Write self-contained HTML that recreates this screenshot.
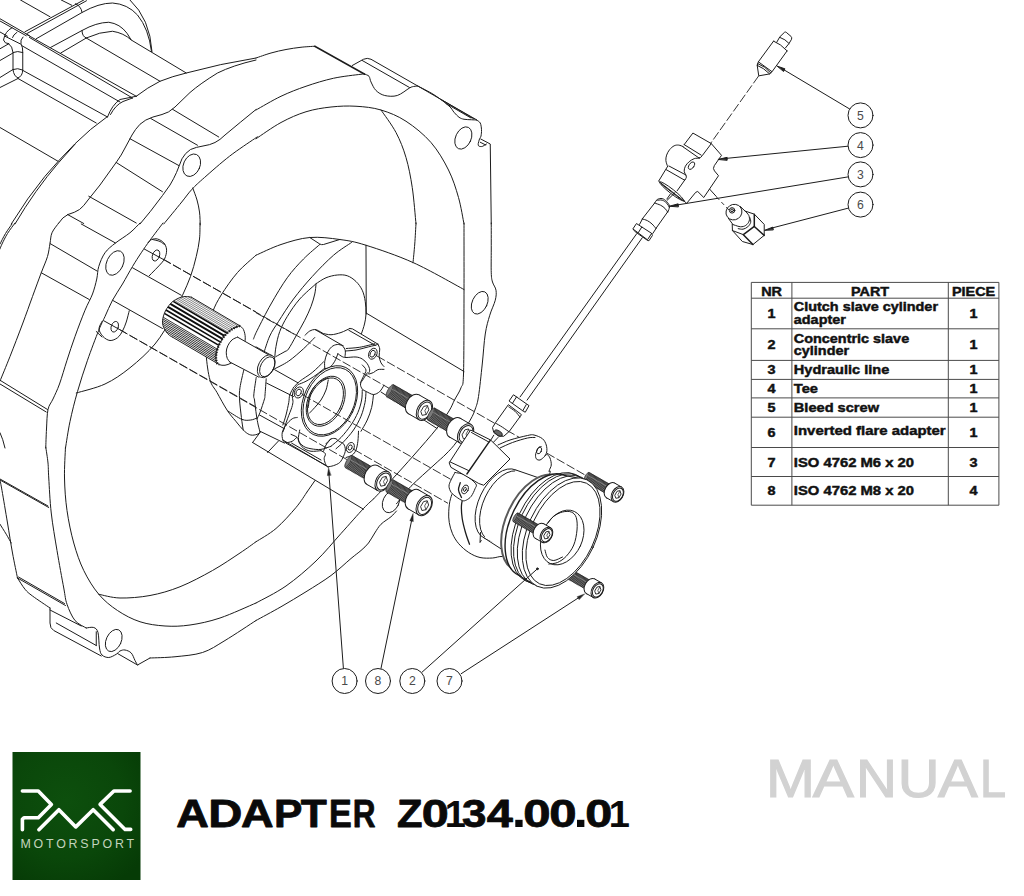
<!DOCTYPE html>
<html><head><meta charset="utf-8">
<style>
html,body{margin:0;padding:0;background:#fff;}
body{width:1024px;height:896px;position:relative;overflow:hidden;font-family:"Liberation Sans",sans-serif;}
svg{position:absolute;left:0;top:0;}
#draw path,#draw line,#draw ellipse,#draw circle,#draw polyline{fill:none;stroke:#1c1c1c;stroke-width:1;vector-effect:non-scaling-stroke;stroke-linecap:round;stroke-linejoin:round;}
#draw .d{stroke-dasharray:9 2.5;stroke-width:0.9;stroke-linecap:butt;}
#draw .w{fill:#fff;}
#draw .k{fill:#222;}
#draw .h{stroke-width:1.5;}
#tbl line{stroke:#4a4a4a;stroke-width:1;}
#tbl text{font-family:"Liberation Sans",sans-serif;font-weight:bold;font-size:12.6px;fill:#111;stroke:#111;stroke-width:0.45;}
</style></head><body>
<svg id="main" width="1024" height="896" viewBox="0 0 1024 896">
<defs>
<radialGradient id="gg" cx="0.42" cy="0.38" r="0.75"><stop offset="0" stop-color="#0d4f0d"/><stop offset="0.6" stop-color="#0a470a"/><stop offset="1" stop-color="#063b06"/></radialGradient>
</defs>
<g id="draw">
<g transform="translate(0,0) scale(0.25)">
<path d="M82,0 L200,67"/>
<path d="M245,0 L287,21"/>
<path d="M100,127 L335,0"/>
<path d="M108,134 L346,3"/>
<path d="M302,15 Q325,25 328,49"/>
<path d="M145,155 L328,50 Q395,12 450,12 Q510,16 550,60 Q595,115 606,206"/>
<path d="M520,0 Q600,75 608,206"/>
<path d="M202,190 L328,122 Q385,90 435,89 Q480,95 508,133 L525,160"/>
<path d="M243,212 L345,152 Q400,127 450,125 Q495,132 525,160 L745,292"/>
<path d="M328,122 Q328,146 345,152"/>
<path d="M345,152 L640,325"/>
<path d="M0,75 L118,143"/>
<path d="M0,84 L105,143"/>
<path d="M107,138 L545,385"/>
<path d="M118,150 L530,392"/>
<path d="M430,468 Q448,420 480,398 L545,385"/>
<path d="M442,458 Q462,420 492,406 L530,392"/>
<path d="M48,111 Q20,125 14,160 Q18,175 35,175"/>
<path d="M35,175 Q50,185 52,210 L52,278 Q55,305 72,312"/>
<path d="M92,148 Q80,160 84,175 Q92,190 91,210 L91,280 Q90,305 72,312"/>
<path d="M68,129 Q52,140 50,150"/>
<path d="M52,210 Q70,202 91,210"/>
<path d="M52,278 Q70,270 91,280"/>
<path d="M0,128 L30,145"/>
<path d="M0,195 L35,175"/>
<path d="M0,242 L52,212"/>
<path d="M0,310 L52,278"/>
<path d="M0,350 L72,314"/>
<path d="M20,145 L82,176"/>
<path d="M88,183 L480,408"/>
<path d="M92,282 L430,468"/>
<path d="M72,314 L385,492"/>
<path d="M0,510 L232,645"/>
<!-- big back rim -->
<path d="M45,896 Q110,790 180,705 Q235,640 300,575 Q360,515 430,466"/>
<path d="M545,385 Q590,350 640,325 Q690,305 745,292 Q880,255 1024,232"/>
<path d="M60,896 Q140,760 235,650 L300,577"/>
<!-- flange outer scalloped edge -->
<path d="M1024,240 Q930,262 870,292 Q800,335 760,370 L700,428 Q675,452 648,458 L612,468 Q580,478 560,497 Q540,518 528,540 L500,592 Q485,622 468,645 L400,740 L352,800 Q335,825 318,838 Q300,850 272,858 Q250,868 235,892"/>
<!-- flange front edge -->
<path d="M1024,438 Q960,490 900,540 Q880,560 860,570 Q840,580 812,584 Q785,588 762,598 Q740,612 728,635 Q716,665 706,690 Q695,715 680,740 L650,782 L602,845 L560,896"/>
<path d="M690,437 L875,548"/>
<path d="M603,474 L790,581"/>
<path d="M520,555 L715,662"/>
<path d="M465,650 L650,767"/>
<path d="M355,785 L545,892"/>
<path d="M270,858 L335,894"/>
<ellipse cx="767" cy="661" rx="33" ry="47" transform="rotate(24 767 661)"/>
<path d="M1030.0,548.0 C1028.0,549.2 1036.7,542.2 1018.0,555.0 C999.3,567.8 951.3,599.2 918.0,625.0 C884.7,650.8 843.0,688.0 818.0,710.0 C793.0,732.0 783.2,740.7 768.0,757.0 C752.8,773.3 745.8,784.8 727.0,808.0 C708.2,831.2 667.0,881.3 655.0,896.0"/>
<path d="M771.0,752.0 C773.8,760.0 783.5,784.0 788.0,800.0 C792.5,816.0 795.8,831.3 798.0,848.0 C800.2,864.7 800.5,891.3 801.0,900.0"/>
</g>

<g transform="translate(0,224) scale(0.25)">
<path d="M48.0,0.0 C43.7,6.3 30.0,24.7 22.0,38.0 C14.0,51.3 3.7,73.0 0.0,80.0"/>
<path d="M60.0,-4.0 C55.0,3.0 38.7,24.0 30.0,38.0 C21.3,52.0 13.0,69.7 8.0,80.0 C3.0,90.3 1.3,96.7 0.0,100.0"/>
<!-- flange outer edge going down -->
<path d="M235.0,-4.0 C230.5,2.5 213.8,21.3 208.0,35.0 C202.2,48.7 203.0,62.2 200.0,78.0 C197.0,93.8 195.8,110.5 190.0,130.0 C184.2,149.5 175.0,168.3 165.0,195.0 C155.0,221.7 142.5,255.8 130.0,290.0 C117.5,324.2 105.0,360.0 90.0,400.0 C75.0,440.0 55.0,492.0 40.0,530.0 C25.0,568.0 6.7,611.7 0.0,628.0"/>
<path d="M200,78 L388,188"/>
<path d="M165,195 L357,302"/>
<path d="M0,625 L190,742"/>
<path d="M0,640 L185,752"/>
<path d="M325,0 L462,76"/>
<!-- flange front left curve -->
<path d="M560.0,-4.0 C553.3,2.5 536.3,21.7 520.0,35.0 C503.7,48.3 478.7,62.7 462.0,76.0 C445.3,89.3 431.2,99.3 420.0,115.0 C408.8,130.7 400.5,152.5 395.0,170.0 C389.5,187.5 391.2,201.7 387.0,220.0 C382.8,238.3 377.8,259.2 370.0,280.0 C362.2,300.8 351.7,316.7 340.0,345.0 C328.3,373.3 312.0,416.7 300.0,450.0 C288.0,483.3 278.3,513.3 268.0,545.0 C257.7,576.7 247.3,614.2 238.0,640.0 C228.7,665.8 219.7,683.0 212.0,700.0 C204.3,717.0 196.3,722.0 192.0,742.0 C187.7,762.0 187.5,794.3 186.0,820.0 C184.5,845.7 183.5,883.3 183.0,896.0"/>
<!-- flange inner (right) curve -->
<path d="M652.0,-4.0 C643.3,7.5 614.5,45.2 600.0,65.0 C585.5,84.8 576.7,97.5 565.0,115.0 C553.3,132.5 542.5,149.2 530.0,170.0 C517.5,190.8 503.3,217.5 490.0,240.0 C476.7,262.5 461.7,283.3 450.0,305.0 C438.3,326.7 429.2,350.0 420.0,370.0 C410.8,390.0 406.7,395.8 395.0,425.0 C383.3,454.2 364.2,504.2 350.0,545.0 C335.8,585.8 321.7,629.2 310.0,670.0 C298.3,710.8 288.0,752.3 280.0,790.0 C272.0,827.7 265.0,878.3 262.0,896.0"/>
<ellipse cx="460" cy="156" rx="33" ry="52" transform="rotate(25 460 156)"/>
<!-- big back-wall arc -->
<path d="M800.0,-4.0 C799.7,6.7 800.5,37.7 798.0,60.0 C795.5,82.3 791.0,105.0 785.0,130.0 C779.0,155.0 771.2,184.2 762.0,210.0 C752.8,235.8 742.0,258.3 730.0,285.0 C718.0,311.7 708.3,337.5 690.0,370.0 C671.7,402.5 648.3,445.8 620.0,480.0 C591.7,514.2 553.3,548.3 520.0,575.0 C486.7,601.7 455.8,623.2 420.0,640.0 C384.2,656.8 324.2,670.0 305.0,676.0"/>
<!-- upper ear -->
<path d="M592.0,75.0 C594.5,72.8 600.7,64.5 607.0,62.0 C613.3,59.5 622.0,57.8 630.0,60.0 C638.0,62.2 649.0,68.3 655.0,75.0 C661.0,81.7 664.8,90.8 666.0,100.0 C667.2,109.2 665.2,120.8 662.0,130.0 C658.8,139.2 657.8,142.2 647.0,155.0 C636.2,167.8 605.3,198.3 597.0,207.0"/>
<path d="M610.0,62.0 C615.0,63.3 631.7,66.3 640.0,70.0 C648.3,73.7 656.7,81.7 660.0,84.0"/>
<ellipse cx="624" cy="126" rx="14" ry="23" transform="rotate(20 624 126)"/>
<path d="M577,100 L652,141"/>
<path class="d" d="M652,141 L1024,352"/>
<path d="M530,175 L725,285"/>
<!-- lower ear -->
<path d="M517.0,347.0 C515.0,354.5 509.5,378.5 505.0,392.0 C500.5,405.5 495.8,417.5 490.0,428.0 C484.2,438.5 478.3,448.7 470.0,455.0 C461.7,461.3 449.7,466.8 440.0,466.0 C430.3,465.2 419.3,457.7 412.0,450.0 C404.7,442.3 396.7,430.0 396.0,420.0 C395.3,410.0 406.0,395.0 408.0,390.0"/>
<ellipse cx="459" cy="411" rx="14" ry="22" transform="rotate(20 459 411)"/>
<path d="M415,387 L478,422"/>
<path class="d" d="M478,422 L1024,732"/>
<path d="M450,305 L650,418"/>
<path d="M385,430 L408,452"/>
<path d="M0,835 Q12,860 20,896"/>
</g>

<g transform="translate(0,448) scale(0.25)">
<path d="M183.0,-4.0 C184.5,6.7 190.0,39.3 192.0,60.0 C194.0,80.7 192.8,86.7 195.0,120.0 C197.2,153.3 199.5,211.7 205.0,260.0 C210.5,308.3 219.7,360.0 228.0,410.0 C236.3,460.0 248.3,524.2 255.0,560.0 C261.7,595.8 260.5,603.3 268.0,625.0 C275.5,646.7 287.2,674.2 300.0,690.0 C312.8,705.8 337.5,715.0 345.0,720.0"/>
<path d="M262.0,-4.0 C261.3,16.7 257.0,77.7 258.0,120.0 C259.0,162.3 261.8,206.7 268.0,250.0 C274.2,293.3 283.8,340.0 295.0,380.0 C306.2,420.0 318.3,455.8 335.0,490.0 C351.7,524.2 372.5,558.3 395.0,585.0 C417.5,611.7 442.5,631.7 470.0,650.0 C497.5,668.3 528.3,684.7 560.0,695.0 C591.7,705.3 626.7,709.8 660.0,712.0 C693.3,714.2 723.3,713.3 760.0,708.0 C796.7,702.7 836.0,694.7 880.0,680.0 C924.0,665.3 1000.0,630.0 1024.0,620.0"/>
<path d="M395.0,585.0 C409.2,587.5 445.8,599.2 480.0,600.0 C514.2,600.8 560.0,597.5 600.0,590.0 C640.0,582.5 678.3,571.7 720.0,555.0 C761.7,538.3 810.0,512.5 850.0,490.0 C890.0,467.5 931.0,439.2 960.0,420.0 C989.0,400.8 1013.3,382.5 1024.0,375.0"/>
<path d="M0.0,128.0 C1.3,135.0 3.0,141.3 8.0,170.0 C13.0,198.7 23.0,258.3 30.0,300.0 C37.0,341.7 43.3,383.3 50.0,420.0 C56.7,456.7 66.7,503.3 70.0,520.0"/>
<path d="M0.0,305.0 C4.2,311.7 17.5,332.5 25.0,345.0 C32.5,357.5 41.7,374.2 45.0,380.0"/>
<path d="M0,128 L195,238"/>
<path d="M0,124 L192,232"/>
<path d="M70,520 L262,630"/>
<path d="M74,516 L258,622"/>
<path d="M70.0,520.0 C75.0,527.5 90.0,553.0 100.0,565.0 C110.0,577.0 113.3,579.5 130.0,592.0 C146.7,604.5 188.3,632.0 200.0,640.0"/>
<path d="M200,640 L200,700 Q200,722 215,730 L405,832"/>
<path d="M225,700 L385,790"/>
<path d="M200,648 L325,712"/>
<ellipse cx="455" cy="770" rx="30" ry="47" transform="rotate(25 455 770)"/>
<path d="M345.0,720.0 C350.0,719.7 367.2,715.0 375.0,718.0 C382.8,721.0 388.2,724.3 392.0,738.0 C395.8,751.7 395.3,785.0 398.0,800.0 C400.7,815.0 401.8,821.7 408.0,828.0 C414.2,834.3 425.5,838.5 435.0,838.0 C444.5,837.5 457.5,829.3 465.0,825.0 C472.5,820.7 474.2,814.8 480.0,812.0 C485.8,809.2 492.5,806.7 500.0,808.0 C507.5,809.3 518.3,813.0 525.0,820.0 C531.7,827.0 535.8,842.0 540.0,850.0 C544.2,858.0 548.3,865.0 550.0,868.0"/>
<path d="M470,822 L550,868 L600,840"/>
<path d="M385,790 L385,735"/>
<path d="M600.0,840.0 C616.7,839.2 665.0,838.7 700.0,835.0 C735.0,831.3 776.7,828.8 810.0,818.0 C843.3,807.2 864.3,791.3 900.0,770.0 C935.7,748.7 1003.3,703.3 1024.0,690.0"/>
</g>

<g transform="translate(256,0) scale(0.25)">
<path d="M0.0,232.0 C10.0,228.7 40.0,217.7 60.0,212.0 C80.0,206.3 100.0,201.8 120.0,198.0 C140.0,194.2 160.8,191.2 180.0,189.0 C199.2,186.8 225.8,185.7 235.0,185.0"/>
<path class="h" d="M235,185 L435,297"/>
<path d="M0.0,440.0 C16.7,430.8 66.7,400.8 100.0,385.0 C133.3,369.2 165.0,357.0 200.0,345.0 C235.0,333.0 273.3,321.0 310.0,313.0 C346.7,305.0 399.2,299.7 420.0,297.0 C440.8,294.3 432.5,297.0 435.0,297.0"/>
<path d="M435.0,297.0 C437.8,298.3 447.8,299.8 452.0,305.0 C456.2,310.2 455.3,318.5 460.0,328.0 C464.7,337.5 470.8,353.0 480.0,362.0 C489.2,371.0 500.8,378.7 515.0,382.0 C529.2,385.3 548.5,387.0 565.0,382.0 C581.5,377.0 603.2,358.0 614.0,352.0 C624.8,346.0 624.5,347.3 630.0,346.0 C635.5,344.7 644.2,344.3 647.0,344.0"/>
<path d="M385,262 L430,237 Q445,230 460,237 L647,344 L742,399 L882,479"/>
<path d="M425,242 L614,350"/>
<path d="M647.0,344.0 C657.8,349.8 691.2,365.7 712.0,379.0 C732.8,392.3 758.7,412.3 772.0,424.0 C785.3,435.7 785.3,441.5 792.0,449.0 C798.7,456.5 805.3,464.3 812.0,469.0 C818.7,473.7 823.7,475.3 832.0,477.0 C840.3,478.7 853.7,478.5 862.0,479.0 C870.3,479.5 878.7,479.8 882.0,480.0"/>
<path d="M742,399 L872,476"/>
<path d="M760,414 L860,472"/>
<path d="M882.0,480.0 C884.5,482.0 893.7,485.5 897.0,492.0 C900.3,498.5 901.5,510.3 902.0,519.0 C902.5,527.7 901.3,537.8 900.0,544.0 C898.7,550.2 895.8,551.0 894.0,556.0 C892.2,561.0 889.7,569.5 889.0,574.0 C888.3,578.5 888.7,581.0 890.0,583.0 C891.3,585.0 894.2,585.7 897.0,586.0 C899.8,586.3 902.8,586.7 907.0,585.0 C911.2,583.3 919.5,577.5 922.0,576.0"/>
<path d="M899,556 L937,576 L941,896"/>
<path d="M897,569 L919,580"/>
<ellipse cx="829.5" cy="552" rx="31" ry="47" transform="rotate(25 829.5 552)"/>
<path d="M0.0,555.0 C16.7,544.2 66.7,508.0 100.0,490.0 C133.3,472.0 166.7,457.3 200.0,447.0 C233.3,436.7 266.7,431.7 300.0,428.0 C333.3,424.3 366.7,423.0 400.0,425.0 C433.3,427.0 466.7,430.0 500.0,440.0 C533.3,450.0 566.7,463.3 600.0,485.0 C633.3,506.7 671.7,537.5 700.0,570.0 C728.3,602.5 751.7,643.3 770.0,680.0 C788.3,716.7 799.7,754.0 810.0,790.0 C820.3,826.0 828.3,878.3 832.0,896.0"/>
<path d="M500.0,440.0 C510.0,455.0 543.3,498.3 560.0,530.0 C576.7,561.7 589.2,593.3 600.0,630.0 C610.8,666.7 618.3,705.7 625.0,750.0 C631.7,794.3 637.5,871.7 640.0,896.0"/>
</g>

<g transform="translate(256,224) scale(0.25)">
<!-- right flange -->
<path d="M941.0,-4.0 C941.0,13.3 941.0,66.8 941.0,100.0 C941.0,133.2 940.2,173.0 941.0,195.0 C941.8,217.0 942.8,220.3 946.0,232.0 C949.2,243.7 958.2,252.8 960.0,265.0 C961.8,277.2 961.2,288.3 957.0,305.0 C952.8,321.7 941.7,342.5 935.0,365.0 C928.3,387.5 922.0,407.5 917.0,440.0 C912.0,472.5 909.5,518.3 905.0,560.0 C900.5,601.7 894.7,660.0 890.0,690.0 C885.3,720.0 882.5,724.3 877.0,740.0 C871.5,755.7 869.5,762.0 857.0,784.0 C844.5,806.0 818.2,849.3 802.0,872.0 C785.8,894.7 775.0,904.7 760.0,920.0 C745.0,935.3 735.3,942.5 712.0,964.0 C688.7,985.5 645.0,1023.2 620.0,1049.0 C595.0,1074.8 571.7,1107.3 562.0,1119.0"/>
<path d="M832.0,-4.0 C832.0,46.7 832.3,199.3 832.0,300.0 C831.7,400.7 832.0,540.8 830.0,600.0 C828.0,659.2 826.0,637.7 820.0,655.0 C814.0,672.3 802.0,688.5 794.0,704.0 C786.0,719.5 784.0,728.8 772.0,748.0 C760.0,767.2 745.3,789.7 722.0,819.0 C698.7,848.3 662.0,889.8 632.0,924.0 C602.0,958.2 569.0,994.7 542.0,1024.0 C515.0,1053.3 482.0,1087.3 470.0,1100.0"/>
<ellipse cx="895" cy="315" rx="30" ry="48" transform="rotate(25 895 315)"/>
<path d="M640.0,-4.0 C639.2,10.0 637.0,53.5 635.0,80.0 C633.0,106.5 629.2,142.5 628.0,155.0"/>
<!-- top big arc -->
<path d="M215,54 L255,80 Q262,84 270,82 L335,62"/>
<path d="M0.0,125.0 C16.7,117.8 64.2,93.8 100.0,82.0 C135.8,70.2 175.8,57.3 215.0,54.0 C254.2,50.7 297.5,56.8 335.0,62.0 C372.5,67.2 390.8,69.5 440.0,85.0 C489.2,100.5 564.7,125.5 630.0,155.0 C695.3,184.5 798.3,244.2 832.0,262.0"/>
<path d="M255.0,82.0 C244.2,91.7 211.7,117.8 190.0,140.0 C168.3,162.2 146.7,185.0 125.0,215.0 C103.3,245.0 80.0,285.0 60.0,320.0 C40.0,355.0 16.7,401.7 5.0,425.0 C-6.7,448.3 -7.5,454.2 -10.0,460.0"/>
<path d="M382.0,74.0 C370.0,82.5 336.2,102.3 310.0,125.0 C283.8,147.7 251.7,180.8 225.0,210.0 C198.3,239.2 172.5,270.0 150.0,300.0 C127.5,330.0 105.8,365.3 90.0,390.0 C74.2,414.7 65.0,426.3 55.0,448.0 C45.0,469.7 34.2,508.0 30.0,520.0"/>
<path d="M240.0,239.0 C229.2,249.2 194.2,278.2 175.0,300.0 C155.8,321.8 138.3,348.3 125.0,370.0 C111.7,391.7 102.5,410.0 95.0,430.0 C87.5,450.0 83.3,472.5 80.0,490.0 C76.7,507.5 75.8,527.5 75.0,535.0"/>
<path d="M240.0,239.0 C246.7,235.0 265.8,220.8 280.0,215.0 C294.2,209.2 310.8,205.3 325.0,204.0 C339.2,202.7 352.5,202.7 365.0,207.0 C377.5,211.3 390.0,220.3 400.0,230.0 C410.0,239.7 418.8,251.7 425.0,265.0 C431.2,278.3 434.5,294.2 437.0,310.0 C439.5,325.8 440.5,345.0 440.0,360.0 C439.5,375.0 437.0,387.0 434.0,400.0 C431.0,413.0 424.0,431.7 422.0,438.0"/>
<path d="M240.0,242.0 C239.2,248.3 238.3,265.3 235.0,280.0 C231.7,294.7 226.7,312.5 220.0,330.0 C213.3,347.5 205.0,365.3 195.0,385.0 C185.0,404.7 170.8,428.8 160.0,448.0 C149.2,467.2 137.3,489.7 130.0,500.0 C122.7,510.3 124.3,505.0 116.0,510.0 C107.7,515.0 86.0,526.7 80.0,530.0"/>
<path d="M440,85 L441,360"/>
<path d="M442,357 L832,590"/>
<path class="d" d="M0,355 L160,445"/>
<path d="M500,672 L724,818"/>
</g>

<!-- throat curves, global coords -->
<g>
<path d="M256.0,255.2 C252.9,258.1 243.3,265.9 237.5,272.5 C231.7,279.1 225.4,288.3 221.2,295.0 C217.1,301.7 214.8,305.8 212.5,312.5 C210.2,319.2 208.5,327.9 207.5,335.0 C206.5,342.1 205.8,347.5 206.2,355.0 C206.7,362.5 208.2,373.8 210.0,380.0 C211.8,386.2 214.2,387.5 217.0,392.5 C219.8,397.5 223.9,405.2 227.0,410.0 C230.1,414.8 232.8,417.7 235.8,421.2 C238.7,424.8 242.0,429.0 244.5,431.2 C247.0,433.5 248.7,434.5 250.8,435.0 C252.8,435.5 255.5,434.8 257.0,434.4 C258.5,434.0 259.5,432.8 260.0,432.5"/>
<path d="M243.8,370.0 C243.1,372.9 240.7,382.7 240.0,387.5 C239.3,392.3 239.3,393.8 239.5,398.8 C239.7,403.8 240.8,412.3 241.4,417.5 C242.0,422.7 242.9,427.9 243.2,430.0"/>
<path d="M256.2,377.5 C255.8,380.4 254.0,391.2 253.8,395.0 C253.5,398.8 254.1,396.7 254.5,400.0 C254.9,403.3 255.8,410.8 256.4,415.0 C257.0,419.2 257.6,422.2 258.2,425.0 C258.9,427.8 259.7,430.8 260.0,432.0"/>
<path d="M266.2,378.8 C266.0,381.5 265.3,391.7 265.0,395.0 C264.7,398.3 265.3,395.8 264.5,398.8 C263.7,401.7 261.2,409.2 260.0,412.5 C258.8,415.8 257.5,417.7 257.0,418.8"/>
<path d="M228.2,411.2 C230.5,412.6 238.2,417.9 242.0,419.4 C245.8,420.9 248.2,420.2 250.8,420.0 C253.2,419.8 256.0,418.3 257.0,418.0"/>
<path d="M260,432.5 L252.6,442.5"/>
<path d="M278.25,441.25 L267.6,452.5"/>
<path d="M260,431.25 L284.5,443.1"/>
</g>

<!-- housing snout lines behind adapter (8x coords offset 256,320) -->
<g transform="translate(256,320) scale(0.125)">
<path d="M0,215 L140,292"/>
<path d="M150,398 L335,502"/>
<path d="M85,505 L300,612"/>
<path d="M28,760 L228,870"/>
<path d="M140.0,395.0 C160.0,384.2 220.0,357.5 260.0,330.0 C300.0,302.5 345.0,261.7 380.0,230.0 C415.0,198.3 455.0,155.0 470.0,140.0"/>
<!-- adapter -->
<path d="M392.0,122.0 C398.3,116.3 417.0,95.7 430.0,88.0 C443.0,80.3 458.3,76.3 470.0,76.0 C481.7,75.7 490.0,81.3 500.0,86.0 C510.0,90.7 525.0,101.0 530.0,104.0"/>
<path d="M475,78 L700,208"/>
<path d="M530.0,106.0 C541.7,108.0 575.0,119.0 600.0,118.0 C625.0,117.0 655.0,108.3 680.0,100.0 C705.0,91.7 738.3,73.3 750.0,68.0"/>
<path d="M750,68 L772,71 L975,193"/>
<path d="M742,82 L955,203"/>
<path d="M715.0,248.0 C729.2,246.7 772.5,244.7 800.0,240.0 C827.5,235.3 853.3,226.7 880.0,220.0 C906.7,213.3 944.2,204.5 960.0,200.0 C975.8,195.5 972.5,194.2 975.0,193.0"/>
<path d="M722.0,228.0 C740.0,226.3 792.0,224.3 830.0,218.0 C868.0,211.7 930.0,194.7 950.0,190.0"/>
<path d="M712.0,292.0 C712.3,284.2 717.3,259.0 714.0,245.0 C710.7,231.0 702.7,216.2 692.0,208.0 C681.3,199.8 664.5,194.8 650.0,196.0 C635.5,197.2 618.3,203.5 605.0,215.0 C591.7,226.5 579.2,245.8 570.0,265.0 C560.8,284.2 553.3,310.0 550.0,330.0 C546.7,350.0 550.0,375.8 550.0,385.0"/>
<path d="M655.0,270.0 C650.8,280.0 640.5,312.0 630.0,330.0 C619.5,348.0 604.5,368.3 592.0,378.0 C579.5,387.7 561.2,386.3 555.0,388.0"/>
<path d="M655.0,270.0 C660.8,273.8 679.2,288.0 690.0,293.0 C700.8,298.0 701.7,299.5 720.0,300.0 C738.3,300.5 778.3,294.0 800.0,296.0 C821.7,298.0 835.0,303.0 850.0,312.0 C865.0,321.0 880.0,335.3 890.0,350.0 C900.0,364.7 909.0,386.3 910.0,400.0 C911.0,413.7 898.3,426.7 896.0,432.0"/>
<path d="M975.0,193.0 C977.5,199.5 988.3,215.8 990.0,232.0 C991.7,248.2 983.3,271.5 985.0,290.0 C986.7,308.5 993.5,329.3 1000.0,343.0 C1006.5,356.7 1020.0,367.2 1024.0,372.0"/>
<ellipse cx="935" cy="270" rx="32" ry="46" transform="rotate(25 935 270)"/>
<ellipse cx="933" cy="270" rx="19" ry="29" transform="rotate(25 933 270)"/>
<path d="M1024.0,395.0 C1015.8,395.3 989.0,392.8 975.0,397.0 C961.0,401.2 951.7,414.2 940.0,420.0 C928.3,425.8 910.8,430.0 905.0,432.0"/>
<path d="M890.0,422.0 C885.0,430.0 869.0,455.0 860.0,470.0 C851.0,485.0 837.7,498.3 836.0,512.0 C834.3,525.7 842.3,542.0 850.0,552.0 C857.7,562.0 867.0,564.7 882.0,572.0 C897.0,579.3 922.0,596.0 940.0,596.0 C958.0,596.0 976.0,584.3 990.0,572.0 C1004.0,559.7 1018.3,530.3 1024.0,522.0"/>
<path d="M850.0,360.0 C855.0,366.7 878.3,385.0 880.0,400.0 C881.7,415.0 867.5,433.3 860.0,450.0 C852.5,466.7 839.2,491.7 835.0,500.0"/>
<!-- left lobe -->
<path d="M550.0,385.0 C538.3,394.2 505.0,422.5 480.0,440.0 C455.0,457.5 423.3,477.5 400.0,490.0 C376.7,502.5 350.0,510.8 340.0,515.0"/>
<path d="M540.0,335.0 C525.0,349.2 481.7,394.2 450.0,420.0 C418.3,445.8 375.0,470.0 350.0,490.0 C325.0,510.0 308.3,531.7 300.0,540.0"/>
<path d="M335.0,518.0 C329.5,525.0 309.5,544.7 302.0,560.0 C294.5,575.3 291.0,595.0 290.0,610.0 C289.0,625.0 296.7,635.0 296.0,650.0 C295.3,665.0 293.3,676.7 286.0,700.0 C278.7,723.3 263.8,757.3 252.0,790.0 C240.2,822.7 221.2,878.3 215.0,896.0"/>
<path d="M300.0,540.0 C295.0,550.0 276.3,580.0 270.0,600.0 C263.7,620.0 267.0,633.3 262.0,660.0 C257.0,686.7 247.8,730.0 240.0,760.0 C232.2,790.0 219.2,826.7 215.0,840.0"/>
<ellipse cx="343" cy="580" rx="35" ry="46" transform="rotate(25 343 580)"/>
<ellipse cx="341" cy="580" rx="20" ry="28" transform="rotate(25 341 580)"/>
<!-- boss ellipses -->
<ellipse class="w" cx="588" cy="648" rx="205" ry="298" transform="rotate(26 588 648)"/>
<ellipse cx="590" cy="650" rx="194" ry="284" transform="rotate(26 590 650)"/>
<ellipse cx="558" cy="650" rx="140" ry="212" transform="rotate(26 558 650)"/>
<ellipse cx="556" cy="650" rx="128" ry="198" transform="rotate(26 556 650)"/>
<path d="M418.0,700.0 C421.7,680.0 426.3,613.3 440.0,580.0 C453.7,546.7 477.5,519.7 500.0,500.0 C522.5,480.3 562.5,468.3 575.0,462.0"/>
<path d="M428.0,745.0 C435.0,737.5 454.7,717.5 470.0,700.0 C485.3,682.5 505.0,663.3 520.0,640.0 C535.0,616.7 550.3,586.7 560.0,560.0 C569.7,533.3 575.0,493.3 578.0,480.0"/>
<!-- right side arcs (thickness) -->
<path d="M850.0,560.0 C849.2,573.3 850.8,610.0 845.0,640.0 C839.2,670.0 829.2,706.7 815.0,740.0 C800.8,773.3 782.5,806.7 760.0,840.0 C737.5,873.3 706.7,911.7 680.0,940.0 C653.3,968.3 613.3,998.3 600.0,1010.0"/>
<path d="M880.0,575.0 C878.7,589.2 878.7,627.5 872.0,660.0 C865.3,692.5 855.3,733.3 840.0,770.0 C824.7,806.7 803.3,845.8 780.0,880.0 C756.7,914.2 723.3,950.0 700.0,975.0 C676.7,1000.0 650.0,1020.8 640.0,1030.0"/>
<path d="M940.0,598.0 C937.5,615.0 933.3,666.3 925.0,700.0 C916.7,733.7 904.2,768.3 890.0,800.0 C875.8,831.7 848.3,875.0 840.0,890.0"/>
<!-- bottom -->
<path d="M330.0,780.0 C323.3,781.7 305.0,780.0 290.0,790.0 C275.0,800.0 253.3,821.7 240.0,840.0 C226.7,858.3 214.2,880.0 210.0,900.0 C205.8,920.0 210.0,946.7 215.0,960.0 C220.0,973.3 227.5,978.3 240.0,980.0 C252.5,981.7 275.8,976.7 290.0,970.0 C304.2,963.3 319.2,945.0 325.0,940.0"/>
<path d="M280.0,915.0 C288.3,919.2 319.2,929.2 330.0,940.0 C340.8,950.8 336.7,965.8 345.0,980.0 C353.3,994.2 364.2,1013.3 380.0,1025.0 C395.8,1036.7 416.7,1046.7 440.0,1050.0 C463.3,1053.3 506.7,1045.8 520.0,1045.0"/>
<path d="M350.0,880.0 C348.3,893.3 335.0,938.3 340.0,960.0 C345.0,981.7 363.3,998.3 380.0,1010.0 C396.7,1021.7 416.7,1025.8 440.0,1030.0 C463.3,1034.2 493.3,1038.3 520.0,1035.0 C546.7,1031.7 586.7,1014.2 600.0,1010.0"/>
<path d="M520.0,1045.0 C525.8,1049.2 550.8,1059.2 555.0,1070.0 C559.2,1080.8 544.2,1095.0 545.0,1110.0 C545.8,1125.0 554.2,1149.2 560.0,1160.0 C565.8,1170.8 576.7,1172.5 580.0,1175.0"/>
<path d="M600.0,950.0 C593.3,958.3 570.0,983.3 560.0,1000.0 C550.0,1016.7 543.3,1041.7 540.0,1050.0"/>
<path d="M560.0,990.0 C566.7,983.7 586.7,958.7 600.0,952.0 C613.3,945.3 629.7,947.0 640.0,950.0 C650.3,953.0 652.0,963.3 662.0,970.0 C672.0,976.7 691.2,978.3 700.0,990.0 C708.8,1001.7 715.0,1023.3 715.0,1040.0 C715.0,1056.7 707.5,1073.3 700.0,1090.0 C692.5,1106.7 683.3,1127.5 670.0,1140.0 C656.7,1152.5 635.8,1159.2 620.0,1165.0 C604.2,1170.8 582.5,1173.3 575.0,1175.0"/>
<path d="M820.0,890.0 C819.2,903.3 818.3,945.0 815.0,970.0 C811.7,995.0 807.5,1021.7 800.0,1040.0 C792.5,1058.3 783.3,1070.0 770.0,1080.0 C756.7,1090.0 728.3,1096.7 720.0,1100.0"/>
<ellipse cx="755" cy="1020" rx="30" ry="42" transform="rotate(25 755 1020)"/>
<ellipse cx="753" cy="1020" rx="15" ry="22" transform="rotate(25 753 1020)"/>
<path d="M215,960 L575,1175"/>
<path d="M240,985 L555,1160"/>
<path d="M285,985 L520,1120"/>
</g>

<g transform="translate(256,448) scale(0.25)">
<path d="M0.0,375.0 C13.3,366.2 53.3,344.8 80.0,322.0 C106.7,299.2 139.3,262.3 160.0,238.0 C180.7,213.7 196.7,186.3 204.0,176.0"/>
<path d="M0.0,620.0 C20.0,608.7 80.0,580.0 120.0,552.0 C160.0,524.0 203.3,487.0 240.0,452.0 C276.7,417.0 308.3,377.0 340.0,342.0 C371.7,307.0 408.3,265.0 430.0,242.0 C451.7,219.0 463.3,210.3 470.0,204.0"/>
<path d="M0.0,690.0 C16.7,680.8 66.7,654.2 100.0,635.0 C133.3,615.8 166.7,595.8 200.0,575.0 C233.3,554.2 270.0,532.2 300.0,510.0 C330.0,487.8 360.0,458.7 380.0,442.0 C400.0,425.3 408.3,420.3 420.0,410.0 C431.7,399.7 440.8,391.7 450.0,380.0 C459.2,368.3 466.7,352.5 475.0,340.0 C483.3,327.5 489.2,315.8 500.0,305.0 C510.8,294.2 529.7,283.8 540.0,275.0 C550.3,266.2 558.3,255.8 562.0,252.0"/>
<path d="M-13.6,-22 L430,245"/>
<path d="M236,130 L204,176"/>
<ellipse cx="540" cy="215" rx="32" ry="46" transform="rotate(25 540 215)"/>
</g>

<!-- bleed screw (5) -->
<g transform="translate(740,20) scale(0.078125)">
<path d="M430,270 L235,535 L410,662 L603,395"/>
<path d="M430,270 Q520,305 603,395"/>
<path d="M235,535 L220,580 L240,715 L380,690 L410,662"/>
<path d="M228,558 Q320,590 395,678"/>
<path d="M220,580 Q300,610 380,690"/>
<path d="M470,285 L510,215 L570,157 Q582,150 592,158 L655,212 Q666,224 660,246 L628,300 L582,357"/>
<path d="M510,222 Q580,245 628,300"/>
<path class="k" d="M480,592 L575,625 L560,655 Z"/>
<path d="M560,636 L1405,1140"/>
</g>
<path class="d" d="M758.6,76 L710.5,143.5"/>
<!-- tee (4) -->
<g transform="translate(640,120) scale(0.1004)">
<path d="M440,245 L527,130 L710,235 L620,355 Q605,382 585,378"/>
<path d="M440,245 L610,350"/>
<path d="M425,265 L590,380"/>
<path d="M430.0,265.0 C422.5,262.5 400.0,251.3 385.0,250.0 C370.0,248.7 355.0,249.5 340.0,257.0 C325.0,264.5 307.5,279.5 295.0,295.0 C282.5,310.5 271.2,331.7 265.0,350.0 C258.8,368.3 256.3,386.3 258.0,405.0 C259.7,423.7 272.2,452.5 275.0,462.0"/>
<path d="M710,235 L812,352 L740,455 Q722,485 742,507 L782,555 L635,772 L575,712 L555,720 L465,830 L440,808"/>
<path d="M590.0,380.0 C581.7,380.8 556.7,379.2 540.0,385.0 C523.3,390.8 504.7,402.5 490.0,415.0 C475.3,427.5 460.3,444.2 452.0,460.0 C443.7,475.8 439.5,495.8 440.0,510.0 C440.5,524.2 451.3,535.0 455.0,545.0 C458.7,555.0 462.8,562.2 462.0,570.0 C461.2,577.8 452.0,588.3 450.0,592.0"/>
<ellipse cx="513" cy="455" rx="24" ry="42" transform="rotate(33 513 455)"/>
<path d="M275,462 L185,610 L440,808"/>
<path d="M262,495 L445,600"/>
<path d="M288,458 L458,548"/>
<path d="M450,592 L370,705"/>
<ellipse cx="318" cy="712" rx="155" ry="22" transform="rotate(38 318 712)"/>
<path d="M215,640 L420,800"/>
<path d="M350,722 L270,800"/>
<path class="k" d="M780,392 L868,372 L868,398 Z"/>
<path class="k" d="M295,858 L380,835 L382,862 Z"/>
<path d="M695,690 L760,762"/>
</g>
<path d="M726,158.4 L848,146.2"/>
<path d="M677,205 L848,176.9"/>
<path class="d" d="M716.5,197 L729,210" style="stroke-dasharray:4 3"/>
<!-- inverted flare adapter (6) -->
<g transform="translate(715,195) scale(0.06836)">
<ellipse cx="278" cy="250" rx="120" ry="112" transform="rotate(-35 278 250)"/>
<circle cx="250" cy="225" r="40"/>
<circle cx="250" cy="225" r="20"/>
<path d="M370,168 L440,235"/>
<path d="M195,340 L262,432"/>
<path d="M440.0,235.0 C449.2,245.8 485.0,275.8 495.0,300.0 C505.0,324.2 507.5,355.8 500.0,380.0 C492.5,404.2 470.8,430.8 450.0,445.0 C429.2,459.2 400.0,465.0 375.0,465.0 C350.0,465.0 318.8,450.5 300.0,445.0 C281.2,439.5 268.3,434.2 262.0,432.0"/>
<path d="M512.0,335.0 C513.7,345.8 527.3,378.3 522.0,400.0 C516.7,421.7 498.7,448.3 480.0,465.0 C461.3,481.7 433.3,495.5 410.0,500.0 C386.7,504.5 351.7,493.3 340.0,492.0"/>
<path d="M440,235 L575,280 L720,430 L720,590 L555,725 L400,680 L255,520 L252,430"/>
<path class="h" d="M575,280 L575,460 L720,590"/>
<path class="h" d="M575,460 L415,580 L555,725"/>
<path d="M255,520 L415,580"/>
<path class="k" d="M730,515 L845,470 L852,505 Z"/>
</g>
<path d="M772,228 L848,208.2"/>
<!-- hydraulic line top fitting (3) -->
<g transform="translate(620,190) scale(0.078125)">
<path d="M445,165 L285,370"/>
<path d="M610,280 L460,492"/>
<path d="M445.0,168.0 C457.5,172.5 498.3,183.8 520.0,195.0 C541.7,206.2 560.0,220.5 575.0,235.0 C590.0,249.5 604.2,274.2 610.0,282.0"/>
<path d="M445.0,165.0 C450.8,157.5 464.2,129.2 480.0,120.0 C495.8,110.8 520.8,105.8 540.0,110.0 C559.2,114.2 579.7,130.0 595.0,145.0 C610.3,160.0 627.0,182.5 632.0,200.0 C637.0,217.5 628.7,236.3 625.0,250.0 C621.3,263.7 612.5,276.7 610.0,282.0"/>
<path d="M470.0,132.0 C481.7,131.7 518.3,123.7 540.0,130.0 C561.7,136.3 584.7,154.2 600.0,170.0 C615.3,185.8 626.7,215.8 632.0,225.0"/>
<path d="M600,115 L645,52"/>
<path d="M285.0,370.0 C295.8,373.7 329.2,381.2 350.0,392.0 C370.8,402.8 391.7,418.3 410.0,435.0 C428.3,451.7 451.7,482.5 460.0,492.0"/>
<path d="M285,375 L250,440"/>
<path d="M460,495 L420,556"/>
<path d="M215,432 L405,555 L415,582 L370,650 L345,640 L195,535 L168,502 Z"/>
<path d="M170,502 L355,640"/>
<path d="M278,475 L235,545"/>
<path d="M405,555 L360,625"/>
</g>
<!-- balloons -->
<g>
<circle class="w" cx="860.5" cy="115.4" r="12.5"/>
<circle class="w" cx="860.5" cy="145.1" r="12.5"/>
<circle class="w" cx="860.5" cy="174.4" r="12.5"/>
<circle class="w" cx="860.5" cy="204.6" r="12.5"/>
</g>

<path d="M636.7,233.7 L520.1,396.9"/>
<path d="M642.3,237.7 L527.1,400.1"/>

<path class="d" d="M163.00,259.00 L392.00,389.99"/>
<path class="d" d="M119.50,329.50 L350.00,461.35"/>
<path class="d" d="M377.00,356.00 L590.00,477.84"/>
<path class="d" d="M303.00,395.00 L515.00,516.05"/>
<path class="d" d="M354.00,449.50 L448.00,503.33"/>
<g transform="translate(150,284) scale(0.125)">
<path class="w" d="M330,105 L290,100 L250,105 L205,125 L170,150 L135,195 L115,235 L103,275 L100,310 L110,350 L130,383 L155,410 L180,425 L555,645 L540,637 L532,620 L528,595 L530,560 L538,525 L553,485 L575,445 L600,410 L630,382 L660,360 L690,345 L720,335Z" style="stroke:none"/>
<path d="M306,102 L708,339" style="stroke:#0d0d0d;stroke-width:0.50;stroke-linecap:butt"/>
<path d="M278,101 L691,345" style="stroke:#0d0d0d;stroke-width:0.50;stroke-linecap:butt"/>
<path d="M256,104 L676,352" style="stroke:#0d0d0d;stroke-width:0.50;stroke-linecap:butt"/>
<path d="M239,110 L662,359" style="stroke:#0d0d0d;stroke-width:0.50;stroke-linecap:butt"/>
<path d="M224,117 L649,368" style="stroke:#0d0d0d;stroke-width:0.50;stroke-linecap:butt"/>
<path d="M209,123 L638,376" style="stroke:#0d0d0d;stroke-width:0.50;stroke-linecap:butt"/>
<path d="M196,132 L626,386" style="stroke:#0d0d0d;stroke-width:0.50;stroke-linecap:butt"/>
<path d="M186,139 L618,394" style="stroke:#0d0d0d;stroke-width:1.72;stroke-linecap:butt"/>
<path d="M163,159 L596,415" style="stroke:#0d0d0d;stroke-width:1.84;stroke-linecap:butt"/>
<path d="M144,183 L579,439" style="stroke:#0d0d0d;stroke-width:1.84;stroke-linecap:butt"/>
<path d="M128,208 L564,465" style="stroke:#0d0d0d;stroke-width:1.72;stroke-linecap:butt"/>
<path d="M115,235 L551,491" style="stroke:#0d0d0d;stroke-width:1.60;stroke-linecap:butt"/>
<path d="M106,266 L539,522" style="stroke:#0d0d0d;stroke-width:0.85;stroke-linecap:butt"/>
<path d="M103,279 L536,534" style="stroke:#0d0d0d;stroke-width:0.85;stroke-linecap:butt"/>
<path d="M102,292 L533,547" style="stroke:#0d0d0d;stroke-width:0.85;stroke-linecap:butt"/>
<path d="M100,306 L530,560" style="stroke:#0d0d0d;stroke-width:0.85;stroke-linecap:butt"/>
<path d="M103,322 L529,574" style="stroke:#0d0d0d;stroke-width:0.85;stroke-linecap:butt"/>
<path d="M107,339 L528,587" style="stroke:#0d0d0d;stroke-width:0.85;stroke-linecap:butt"/>
<path d="M115,358 L529,602" style="stroke:#0d0d0d;stroke-width:0.85;stroke-linecap:butt"/>
<path d="M128,380 L532,618" style="stroke:#0d0d0d;stroke-width:0.85;stroke-linecap:butt"/>
<path d="M330.0,105.0 C323.3,104.2 303.3,100.0 290.0,100.0 C276.7,100.0 264.2,100.8 250.0,105.0 C235.8,109.2 218.3,117.5 205.0,125.0 C191.7,132.5 181.7,138.3 170.0,150.0 C158.3,161.7 144.2,180.8 135.0,195.0 C125.8,209.2 120.3,221.7 115.0,235.0 C109.7,248.3 105.5,262.5 103.0,275.0 C100.5,287.5 98.8,297.5 100.0,310.0 C101.2,322.5 105.0,337.8 110.0,350.0 C115.0,362.2 122.5,373.0 130.0,383.0 C137.5,393.0 146.7,403.0 155.0,410.0 C163.3,417.0 175.8,422.5 180.0,425.0"/>
<path d="M330,105 L720,335"/>
<path d="M180,425 L555,645"/>
<path class="w" d="M720.0,335.0 C724.7,340.0 741.0,349.2 748.0,365.0 C755.0,380.8 762.0,405.0 762.0,430.0 C762.0,455.0 757.5,487.5 748.0,515.0 C738.5,542.5 721.3,575.5 705.0,595.0 C688.7,614.5 667.5,622.8 650.0,632.0 C632.5,641.2 615.8,647.8 600.0,650.0 C584.2,652.2 566.3,650.0 555.0,645.0 C543.7,640.0 536.5,628.3 532.0,620.0 C527.5,611.7 528.3,605.0 528.0,595.0 C527.7,585.0 528.3,571.7 530.0,560.0 C531.7,548.3 534.2,537.5 538.0,525.0 C541.8,512.5 546.8,498.3 553.0,485.0 C559.2,471.7 567.2,457.5 575.0,445.0 C582.8,432.5 590.8,420.5 600.0,410.0 C609.2,399.5 620.0,390.3 630.0,382.0 C640.0,373.7 650.0,366.2 660.0,360.0 C670.0,353.8 680.0,349.2 690.0,345.0 C700.0,340.8 715.0,336.7 720.0,335.0"/>
<path style="stroke-width:2.4;stroke-dasharray:1.3 1.5;stroke-linecap:butt" d="M720.0,335.0 C715.0,336.7 700.0,340.8 690.0,345.0 C680.0,349.2 670.0,353.8 660.0,360.0 C650.0,366.2 640.0,373.7 630.0,382.0 C620.0,390.3 609.2,399.5 600.0,410.0 C590.8,420.5 582.8,432.5 575.0,445.0 C567.2,457.5 559.2,471.7 553.0,485.0 C546.8,498.3 541.8,512.5 538.0,525.0 C534.2,537.5 531.7,548.3 530.0,560.0 C528.3,571.7 527.7,585.0 528.0,595.0 C528.3,605.0 530.0,613.0 532.0,620.0 C534.0,627.0 536.2,632.8 540.0,637.0 C543.8,641.2 552.5,643.7 555.0,645.0"/>
<path class="w" d="M700,425 L945,565 L870,745 L640,625 Z" style="stroke:none"/>
<path d="M700.0,425.0 C692.5,428.8 668.0,436.3 655.0,448.0 C642.0,459.7 629.5,478.8 622.0,495.0 C614.5,511.2 610.7,528.3 610.0,545.0 C609.3,561.7 613.0,581.7 618.0,595.0 C623.0,608.3 636.3,620.0 640.0,625.0"/>
<path d="M700,425 L948,566"/>
<path d="M640,625 L872,746"/>
<ellipse class="w" cx="930" cy="658" rx="62" ry="98" transform="rotate(28 930 658)"/>
<ellipse cx="938" cy="662" rx="52" ry="86" transform="rotate(28 938 662)"/>
</g>
<path d="M416.98,398.20 L393.55,384.78 C390.83,383.22 383.97,395.20 386.69,396.76 L410.12,410.18 Z" style="fill:#7a7a7a;stroke:#222;stroke-width:0.7"/>
<path d="M393.38,384.68 Q392.82,392.31 386.87,396.86" style="stroke:#111;stroke-width:0.62"/>
<path d="M394.55,385.35 Q393.99,392.98 388.04,397.53" style="stroke:#111;stroke-width:0.62"/>
<path d="M395.72,386.02 Q395.16,393.65 389.21,398.20" style="stroke:#111;stroke-width:0.62"/>
<path d="M396.89,386.70 Q396.33,394.33 390.38,398.87" style="stroke:#111;stroke-width:0.62"/>
<path d="M398.06,387.37 Q397.50,395.00 391.55,399.54" style="stroke:#111;stroke-width:0.62"/>
<path d="M399.24,388.04 Q398.68,395.67 392.73,400.21" style="stroke:#111;stroke-width:0.62"/>
<path d="M400.41,388.71 Q399.85,396.34 393.90,400.88" style="stroke:#111;stroke-width:0.62"/>
<path d="M401.58,389.38 Q401.02,397.01 395.07,401.55" style="stroke:#111;stroke-width:0.62"/>
<path d="M402.75,390.05 Q402.19,397.68 396.24,402.22" style="stroke:#111;stroke-width:0.62"/>
<path d="M403.92,390.72 Q403.36,398.35 397.41,402.89" style="stroke:#111;stroke-width:0.62"/>
<path d="M405.09,391.39 Q404.53,399.02 398.58,403.57" style="stroke:#111;stroke-width:0.62"/>
<path d="M406.27,392.06 Q405.70,399.69 399.75,404.24" style="stroke:#111;stroke-width:0.62"/>
<path d="M407.44,392.73 Q406.88,400.36 400.93,404.91" style="stroke:#111;stroke-width:0.62"/>
<path d="M408.61,393.40 Q408.05,401.03 402.10,405.58" style="stroke:#111;stroke-width:0.62"/>
<path d="M409.78,394.08 Q409.22,401.71 403.27,406.25" style="stroke:#111;stroke-width:0.62"/>
<path d="M410.95,394.75 Q410.39,402.38 404.44,406.92" style="stroke:#111;stroke-width:0.62"/>
<path d="M412.12,395.42 Q411.56,403.05 405.61,407.59" style="stroke:#111;stroke-width:0.62"/>
<path d="M413.29,396.09 Q412.73,403.72 406.78,408.26" style="stroke:#111;stroke-width:0.62"/>
<path d="M414.47,396.76 Q413.90,404.39 407.95,408.93" style="stroke:#111;stroke-width:0.62"/>
<path d="M415.64,397.43 Q415.08,405.06 409.13,409.60" style="stroke:#111;stroke-width:0.62"/>
<path d="M416.81,398.10 Q416.25,405.73 410.30,410.27" style="stroke:#111;stroke-width:0.62"/>
<path d="M392.19,389.17 L413.02,401.10" style="stroke:#b5b5b5;stroke-width:0.5"/>
<ellipse class="w" cx="413.55" cy="404.19" rx="7.10" ry="10.80" transform="rotate(29.8 413.55 404.19)"/>
<path class="w" style="stroke:none" d="M418.92,394.82 L429.77,401.03 L419.03,419.77 L408.19,413.56 Z"/>
<path d="M418.92,394.82 L429.77,401.03"/>
<path d="M408.19,413.56 L419.03,419.77"/>
<ellipse class="w" cx="424.40" cy="410.40" rx="7.10" ry="10.80" transform="rotate(29.8 424.40 410.40)"/>
<ellipse cx="424.83" cy="410.65" rx="6.03" ry="9.18" transform="rotate(29.8 424.83 410.65)" style="stroke-width:1.0"/>
<path d="M427.52,405.96 L428.84,409.83 L426.16,414.52 L422.15,415.33 L420.82,411.46 L423.51,406.78 Z" style="stroke-width:0.9"/>
<path d="M427.52,405.96 L424.83,410.65 L426.16,414.52" style="stroke-width:0.7"/>
<path d="M458.18,421.60 L434.75,408.18 C432.03,406.62 425.17,418.60 427.89,420.16 L451.32,433.58 Z" style="fill:#7a7a7a;stroke:#222;stroke-width:0.7"/>
<path d="M434.58,408.08 Q434.02,415.71 428.07,420.26" style="stroke:#111;stroke-width:0.62"/>
<path d="M435.75,408.75 Q435.19,416.38 429.24,420.93" style="stroke:#111;stroke-width:0.62"/>
<path d="M436.92,409.42 Q436.36,417.05 430.41,421.60" style="stroke:#111;stroke-width:0.62"/>
<path d="M438.09,410.10 Q437.53,417.73 431.58,422.27" style="stroke:#111;stroke-width:0.62"/>
<path d="M439.26,410.77 Q438.70,418.40 432.75,422.94" style="stroke:#111;stroke-width:0.62"/>
<path d="M440.44,411.44 Q439.88,419.07 433.93,423.61" style="stroke:#111;stroke-width:0.62"/>
<path d="M441.61,412.11 Q441.05,419.74 435.10,424.28" style="stroke:#111;stroke-width:0.62"/>
<path d="M442.78,412.78 Q442.22,420.41 436.27,424.95" style="stroke:#111;stroke-width:0.62"/>
<path d="M443.95,413.45 Q443.39,421.08 437.44,425.62" style="stroke:#111;stroke-width:0.62"/>
<path d="M445.12,414.12 Q444.56,421.75 438.61,426.29" style="stroke:#111;stroke-width:0.62"/>
<path d="M446.29,414.79 Q445.73,422.42 439.78,426.97" style="stroke:#111;stroke-width:0.62"/>
<path d="M447.47,415.46 Q446.90,423.09 440.95,427.64" style="stroke:#111;stroke-width:0.62"/>
<path d="M448.64,416.13 Q448.08,423.76 442.13,428.31" style="stroke:#111;stroke-width:0.62"/>
<path d="M449.81,416.80 Q449.25,424.43 443.30,428.98" style="stroke:#111;stroke-width:0.62"/>
<path d="M450.98,417.48 Q450.42,425.11 444.47,429.65" style="stroke:#111;stroke-width:0.62"/>
<path d="M452.15,418.15 Q451.59,425.78 445.64,430.32" style="stroke:#111;stroke-width:0.62"/>
<path d="M453.32,418.82 Q452.76,426.45 446.81,430.99" style="stroke:#111;stroke-width:0.62"/>
<path d="M454.49,419.49 Q453.93,427.12 447.98,431.66" style="stroke:#111;stroke-width:0.62"/>
<path d="M455.67,420.16 Q455.10,427.79 449.15,432.33" style="stroke:#111;stroke-width:0.62"/>
<path d="M456.84,420.83 Q456.28,428.46 450.33,433.00" style="stroke:#111;stroke-width:0.62"/>
<path d="M458.01,421.50 Q457.45,429.13 451.50,433.67" style="stroke:#111;stroke-width:0.62"/>
<path d="M433.39,412.57 L454.22,424.50" style="stroke:#b5b5b5;stroke-width:0.5"/>
<ellipse class="w" cx="454.75" cy="427.59" rx="7.10" ry="10.80" transform="rotate(29.8 454.75 427.59)"/>
<path class="w" style="stroke:none" d="M460.12,418.22 L470.97,424.43 L460.23,443.17 L449.39,436.96 Z"/>
<path d="M460.12,418.22 L470.97,424.43"/>
<path d="M449.39,436.96 L460.23,443.17"/>
<ellipse class="w" cx="465.60" cy="433.80" rx="7.10" ry="10.80" transform="rotate(29.8 465.60 433.80)"/>
<ellipse cx="466.03" cy="434.05" rx="6.03" ry="9.18" transform="rotate(29.8 466.03 434.05)" style="stroke-width:1.0"/>
<path d="M468.72,429.36 L470.04,433.23 L467.36,437.92 L463.35,438.73 L462.02,434.86 L464.71,430.18 Z" style="stroke-width:0.9"/>
<path d="M468.72,429.36 L466.03,434.05 L467.36,437.92" style="stroke-width:0.7"/>
<path d="M375.68,469.05 L352.25,455.63 C349.53,454.07 342.67,466.05 345.39,467.61 L368.82,481.03 Z" style="fill:#7a7a7a;stroke:#222;stroke-width:0.7"/>
<path d="M352.08,455.53 Q351.52,463.16 345.57,467.71" style="stroke:#111;stroke-width:0.62"/>
<path d="M353.25,456.20 Q352.69,463.83 346.74,468.38" style="stroke:#111;stroke-width:0.62"/>
<path d="M354.42,456.87 Q353.86,464.50 347.91,469.05" style="stroke:#111;stroke-width:0.62"/>
<path d="M355.59,457.55 Q355.03,465.18 349.08,469.72" style="stroke:#111;stroke-width:0.62"/>
<path d="M356.76,458.22 Q356.20,465.85 350.25,470.39" style="stroke:#111;stroke-width:0.62"/>
<path d="M357.94,458.89 Q357.38,466.52 351.43,471.06" style="stroke:#111;stroke-width:0.62"/>
<path d="M359.11,459.56 Q358.55,467.19 352.60,471.73" style="stroke:#111;stroke-width:0.62"/>
<path d="M360.28,460.23 Q359.72,467.86 353.77,472.40" style="stroke:#111;stroke-width:0.62"/>
<path d="M361.45,460.90 Q360.89,468.53 354.94,473.07" style="stroke:#111;stroke-width:0.62"/>
<path d="M362.62,461.57 Q362.06,469.20 356.11,473.74" style="stroke:#111;stroke-width:0.62"/>
<path d="M363.79,462.24 Q363.23,469.87 357.28,474.42" style="stroke:#111;stroke-width:0.62"/>
<path d="M364.97,462.91 Q364.40,470.54 358.45,475.09" style="stroke:#111;stroke-width:0.62"/>
<path d="M366.14,463.58 Q365.58,471.21 359.63,475.76" style="stroke:#111;stroke-width:0.62"/>
<path d="M367.31,464.25 Q366.75,471.88 360.80,476.43" style="stroke:#111;stroke-width:0.62"/>
<path d="M368.48,464.93 Q367.92,472.56 361.97,477.10" style="stroke:#111;stroke-width:0.62"/>
<path d="M369.65,465.60 Q369.09,473.23 363.14,477.77" style="stroke:#111;stroke-width:0.62"/>
<path d="M370.82,466.27 Q370.26,473.90 364.31,478.44" style="stroke:#111;stroke-width:0.62"/>
<path d="M371.99,466.94 Q371.43,474.57 365.48,479.11" style="stroke:#111;stroke-width:0.62"/>
<path d="M373.17,467.61 Q372.60,475.24 366.65,479.78" style="stroke:#111;stroke-width:0.62"/>
<path d="M374.34,468.28 Q373.78,475.91 367.83,480.45" style="stroke:#111;stroke-width:0.62"/>
<path d="M375.51,468.95 Q374.95,476.58 369.00,481.12" style="stroke:#111;stroke-width:0.62"/>
<path d="M350.89,460.02 L371.72,471.95" style="stroke:#b5b5b5;stroke-width:0.5"/>
<ellipse class="w" cx="372.25" cy="475.04" rx="7.10" ry="10.80" transform="rotate(29.8 372.25 475.04)"/>
<path class="w" style="stroke:none" d="M377.62,465.67 L388.47,471.88 L377.73,490.62 L366.89,484.41 Z"/>
<path d="M377.62,465.67 L388.47,471.88"/>
<path d="M366.89,484.41 L377.73,490.62"/>
<ellipse class="w" cx="383.10" cy="481.25" rx="7.10" ry="10.80" transform="rotate(29.8 383.10 481.25)"/>
<ellipse cx="383.53" cy="481.50" rx="6.03" ry="9.18" transform="rotate(29.8 383.53 481.50)" style="stroke-width:1.0"/>
<path d="M386.22,476.81 L387.54,480.68 L384.86,485.37 L380.85,486.18 L379.52,482.31 L382.21,477.63 Z" style="stroke-width:0.9"/>
<path d="M386.22,476.81 L383.53,481.50 L384.86,485.37" style="stroke-width:0.7"/>
<path d="M416.78,493.40 L393.35,479.98 C390.63,478.42 383.77,490.40 386.49,491.96 L409.92,505.38 Z" style="fill:#7a7a7a;stroke:#222;stroke-width:0.7"/>
<path d="M393.18,479.88 Q392.62,487.51 386.67,492.06" style="stroke:#111;stroke-width:0.62"/>
<path d="M394.35,480.55 Q393.79,488.18 387.84,492.73" style="stroke:#111;stroke-width:0.62"/>
<path d="M395.52,481.22 Q394.96,488.85 389.01,493.40" style="stroke:#111;stroke-width:0.62"/>
<path d="M396.69,481.90 Q396.13,489.53 390.18,494.07" style="stroke:#111;stroke-width:0.62"/>
<path d="M397.86,482.57 Q397.30,490.20 391.35,494.74" style="stroke:#111;stroke-width:0.62"/>
<path d="M399.04,483.24 Q398.48,490.87 392.53,495.41" style="stroke:#111;stroke-width:0.62"/>
<path d="M400.21,483.91 Q399.65,491.54 393.70,496.08" style="stroke:#111;stroke-width:0.62"/>
<path d="M401.38,484.58 Q400.82,492.21 394.87,496.75" style="stroke:#111;stroke-width:0.62"/>
<path d="M402.55,485.25 Q401.99,492.88 396.04,497.42" style="stroke:#111;stroke-width:0.62"/>
<path d="M403.72,485.92 Q403.16,493.55 397.21,498.09" style="stroke:#111;stroke-width:0.62"/>
<path d="M404.89,486.59 Q404.33,494.22 398.38,498.77" style="stroke:#111;stroke-width:0.62"/>
<path d="M406.07,487.26 Q405.50,494.89 399.55,499.44" style="stroke:#111;stroke-width:0.62"/>
<path d="M407.24,487.93 Q406.68,495.56 400.73,500.11" style="stroke:#111;stroke-width:0.62"/>
<path d="M408.41,488.60 Q407.85,496.23 401.90,500.78" style="stroke:#111;stroke-width:0.62"/>
<path d="M409.58,489.28 Q409.02,496.91 403.07,501.45" style="stroke:#111;stroke-width:0.62"/>
<path d="M410.75,489.95 Q410.19,497.58 404.24,502.12" style="stroke:#111;stroke-width:0.62"/>
<path d="M411.92,490.62 Q411.36,498.25 405.41,502.79" style="stroke:#111;stroke-width:0.62"/>
<path d="M413.09,491.29 Q412.53,498.92 406.58,503.46" style="stroke:#111;stroke-width:0.62"/>
<path d="M414.27,491.96 Q413.70,499.59 407.75,504.13" style="stroke:#111;stroke-width:0.62"/>
<path d="M415.44,492.63 Q414.88,500.26 408.93,504.80" style="stroke:#111;stroke-width:0.62"/>
<path d="M416.61,493.30 Q416.05,500.93 410.10,505.47" style="stroke:#111;stroke-width:0.62"/>
<path d="M391.99,484.37 L412.82,496.30" style="stroke:#b5b5b5;stroke-width:0.5"/>
<ellipse class="w" cx="413.35" cy="499.39" rx="7.10" ry="10.80" transform="rotate(29.8 413.35 499.39)"/>
<path class="w" style="stroke:none" d="M418.72,490.02 L429.57,496.23 L418.83,514.97 L407.99,508.76 Z"/>
<path d="M418.72,490.02 L429.57,496.23"/>
<path d="M407.99,508.76 L418.83,514.97"/>
<ellipse class="w" cx="424.20" cy="505.60" rx="7.10" ry="10.80" transform="rotate(29.8 424.20 505.60)"/>
<ellipse cx="424.63" cy="505.85" rx="6.03" ry="9.18" transform="rotate(29.8 424.63 505.85)" style="stroke-width:1.0"/>
<path d="M427.32,501.16 L428.64,505.03 L425.96,509.72 L421.95,510.53 L420.62,506.66 L423.31,501.98 Z" style="stroke-width:0.9"/>
<path d="M427.32,501.16 L424.63,505.85 L425.96,509.72" style="stroke-width:0.7"/>
<path d="M612.99,486.17 L589.13,472.51 C587.19,471.40 582.32,479.90 584.26,481.01 L608.12,494.68 Z" style="fill:#7a7a7a;stroke:#222;stroke-width:0.7"/>
<path d="M588.96,472.41 Q588.61,477.85 584.43,481.11" style="stroke:#111;stroke-width:0.62"/>
<path d="M590.09,473.06 Q589.74,478.50 585.57,481.76" style="stroke:#111;stroke-width:0.62"/>
<path d="M591.23,473.71 Q590.88,479.15 586.71,482.41" style="stroke:#111;stroke-width:0.62"/>
<path d="M592.37,474.36 Q592.02,479.81 587.84,483.06" style="stroke:#111;stroke-width:0.62"/>
<path d="M593.50,475.01 Q593.15,480.46 588.98,483.71" style="stroke:#111;stroke-width:0.62"/>
<path d="M594.64,475.66 Q594.29,481.11 590.11,484.36" style="stroke:#111;stroke-width:0.62"/>
<path d="M595.77,476.31 Q595.43,481.76 591.25,485.01" style="stroke:#111;stroke-width:0.62"/>
<path d="M596.91,476.96 Q596.56,482.41 592.39,485.66" style="stroke:#111;stroke-width:0.62"/>
<path d="M598.05,477.61 Q597.70,483.06 593.52,486.32" style="stroke:#111;stroke-width:0.62"/>
<path d="M599.18,478.26 Q598.83,483.71 594.66,486.97" style="stroke:#111;stroke-width:0.62"/>
<path d="M600.32,478.91 Q599.97,484.36 595.80,487.62" style="stroke:#111;stroke-width:0.62"/>
<path d="M601.46,479.56 Q601.11,485.01 596.93,488.27" style="stroke:#111;stroke-width:0.62"/>
<path d="M602.59,480.22 Q602.24,485.66 598.07,488.92" style="stroke:#111;stroke-width:0.62"/>
<path d="M603.73,480.87 Q603.38,486.31 599.21,489.57" style="stroke:#111;stroke-width:0.62"/>
<path d="M604.86,481.52 Q604.52,486.96 600.34,490.22" style="stroke:#111;stroke-width:0.62"/>
<path d="M606.00,482.17 Q605.65,487.62 601.48,490.87" style="stroke:#111;stroke-width:0.62"/>
<path d="M607.14,482.82 Q606.79,488.27 602.61,491.52" style="stroke:#111;stroke-width:0.62"/>
<path d="M608.27,483.47 Q607.93,488.92 603.75,492.17" style="stroke:#111;stroke-width:0.62"/>
<path d="M609.41,484.12 Q609.06,489.57 604.89,492.82" style="stroke:#111;stroke-width:0.62"/>
<path d="M610.55,484.77 Q610.20,490.22 606.02,493.47" style="stroke:#111;stroke-width:0.62"/>
<path d="M611.68,485.42 Q611.33,490.87 607.16,494.12" style="stroke:#111;stroke-width:0.62"/>
<path d="M612.82,486.07 Q612.47,491.52 608.30,494.78" style="stroke:#111;stroke-width:0.62"/>
<path d="M588.41,475.77 L609.67,487.94" style="stroke:#b5b5b5;stroke-width:0.5"/>
<ellipse class="w" cx="610.56" cy="490.42" rx="5.60" ry="8.40" transform="rotate(29.8 610.56 490.42)"/>
<path class="w" style="stroke:none" d="M614.73,483.13 L621.67,487.11 L613.33,501.69 L606.38,497.71 Z"/>
<path d="M614.73,483.13 L621.67,487.11"/>
<path d="M606.38,497.71 L613.33,501.69"/>
<ellipse class="w" cx="617.50" cy="494.40" rx="5.60" ry="8.40" transform="rotate(29.8 617.50 494.40)"/>
<ellipse cx="617.93" cy="494.65" rx="4.76" ry="7.14" transform="rotate(29.8 617.93 494.65)" style="stroke-width:1.0"/>
<path d="M620.02,491.00 L621.08,494.03 L618.99,497.68 L615.85,498.29 L614.79,495.27 L616.87,491.62 Z" style="stroke-width:0.9"/>
<path d="M620.02,491.00 L617.93,494.65 L618.99,497.68" style="stroke-width:0.7"/>
<path d="M592.89,581.97 L569.03,568.31 C567.09,567.20 562.22,575.70 564.16,576.81 L588.02,590.48 Z" style="fill:#7a7a7a;stroke:#222;stroke-width:0.7"/>
<path d="M568.86,568.21 Q568.51,573.65 564.33,576.91" style="stroke:#111;stroke-width:0.62"/>
<path d="M569.99,568.86 Q569.64,574.30 565.47,577.56" style="stroke:#111;stroke-width:0.62"/>
<path d="M571.13,569.51 Q570.78,574.95 566.61,578.21" style="stroke:#111;stroke-width:0.62"/>
<path d="M572.27,570.16 Q571.92,575.61 567.74,578.86" style="stroke:#111;stroke-width:0.62"/>
<path d="M573.40,570.81 Q573.05,576.26 568.88,579.51" style="stroke:#111;stroke-width:0.62"/>
<path d="M574.54,571.46 Q574.19,576.91 570.01,580.16" style="stroke:#111;stroke-width:0.62"/>
<path d="M575.67,572.11 Q575.33,577.56 571.15,580.81" style="stroke:#111;stroke-width:0.62"/>
<path d="M576.81,572.76 Q576.46,578.21 572.29,581.46" style="stroke:#111;stroke-width:0.62"/>
<path d="M577.95,573.41 Q577.60,578.86 573.42,582.12" style="stroke:#111;stroke-width:0.62"/>
<path d="M579.08,574.06 Q578.73,579.51 574.56,582.77" style="stroke:#111;stroke-width:0.62"/>
<path d="M580.22,574.71 Q579.87,580.16 575.70,583.42" style="stroke:#111;stroke-width:0.62"/>
<path d="M581.36,575.36 Q581.01,580.81 576.83,584.07" style="stroke:#111;stroke-width:0.62"/>
<path d="M582.49,576.02 Q582.14,581.46 577.97,584.72" style="stroke:#111;stroke-width:0.62"/>
<path d="M583.63,576.67 Q583.28,582.11 579.11,585.37" style="stroke:#111;stroke-width:0.62"/>
<path d="M584.76,577.32 Q584.42,582.76 580.24,586.02" style="stroke:#111;stroke-width:0.62"/>
<path d="M585.90,577.97 Q585.55,583.42 581.38,586.67" style="stroke:#111;stroke-width:0.62"/>
<path d="M587.04,578.62 Q586.69,584.07 582.51,587.32" style="stroke:#111;stroke-width:0.62"/>
<path d="M588.17,579.27 Q587.83,584.72 583.65,587.97" style="stroke:#111;stroke-width:0.62"/>
<path d="M589.31,579.92 Q588.96,585.37 584.79,588.62" style="stroke:#111;stroke-width:0.62"/>
<path d="M590.45,580.57 Q590.10,586.02 585.92,589.27" style="stroke:#111;stroke-width:0.62"/>
<path d="M591.58,581.22 Q591.23,586.67 587.06,589.92" style="stroke:#111;stroke-width:0.62"/>
<path d="M592.72,581.87 Q592.37,587.32 588.20,590.58" style="stroke:#111;stroke-width:0.62"/>
<path d="M568.31,571.57 L589.57,583.74" style="stroke:#b5b5b5;stroke-width:0.5"/>
<ellipse class="w" cx="590.46" cy="586.22" rx="5.60" ry="8.40" transform="rotate(29.8 590.46 586.22)"/>
<path class="w" style="stroke:none" d="M594.63,578.93 L601.57,582.91 L593.23,597.49 L586.28,593.51 Z"/>
<path d="M594.63,578.93 L601.57,582.91"/>
<path d="M586.28,593.51 L593.23,597.49"/>
<ellipse class="w" cx="597.40" cy="590.20" rx="5.60" ry="8.40" transform="rotate(29.8 597.40 590.20)"/>
<ellipse cx="597.83" cy="590.45" rx="4.76" ry="7.14" transform="rotate(29.8 597.83 590.45)" style="stroke-width:1.0"/>
<path d="M599.92,586.80 L600.98,589.83 L598.89,593.48 L595.75,594.09 L594.69,591.07 L596.77,587.42 Z" style="stroke-width:0.9"/>
<path d="M599.92,586.80 L597.83,590.45 L598.89,593.48" style="stroke-width:0.7"/>
<!-- slave cylinder: back plate + body (4x coords offset 440,370) -->
<g transform="translate(440,370) scale(0.25)">
<!-- back plate outline filled white -->
<path class="w" d="M232.0,300.0 C240.0,296.7 260.3,286.3 280.0,280.0 C299.7,273.7 334.0,265.3 350.0,262.0 C366.0,258.7 366.0,257.8 376.0,260.0 C386.0,262.2 401.8,268.3 410.0,275.0 C418.2,281.7 422.2,291.2 425.0,300.0 C427.8,308.8 428.2,320.3 427.0,328.0 C425.8,335.7 417.8,344.3 418.0,346.0 C418.2,347.7 424.3,337.0 428.0,338.0 C431.7,339.0 437.2,345.0 440.0,352.0 C442.8,359.0 445.7,371.2 445.0,380.0 C444.3,388.8 438.5,395.0 436.0,405.0 C433.5,415.0 452.7,380.8 430.0,440.0 C407.3,499.2 330.0,709.0 300.0,760.0 C270.0,811.0 265.0,747.3 250.0,746.0 C235.0,744.7 225.0,751.3 210.0,752.0 C195.0,752.7 175.8,753.7 160.0,750.0 C144.2,746.3 129.2,739.2 115.0,730.0 C100.8,720.8 85.8,707.5 75.0,695.0 C64.2,682.5 56.3,669.2 50.0,655.0 C43.7,640.8 39.5,625.0 37.0,610.0 C34.5,595.0 34.2,580.8 35.0,565.0 C35.8,549.2 37.8,529.2 42.0,515.0 C46.2,500.8 47.0,494.2 60.0,480.0 C73.0,465.8 103.3,451.7 120.0,430.0 C136.7,408.3 141.3,376.7 160.0,350.0 C178.7,323.3 220.0,283.3 232.0,270.0"/>
<path d="M240.0,312.0 C248.3,308.3 271.7,296.7 290.0,290.0 C308.3,283.3 335.0,275.3 350.0,272.0 C365.0,268.7 375.0,270.3 380.0,270.0"/>
<!-- upper-right lug slot -->
<path d="M405.0,307.0 C403.3,307.5 398.7,305.3 395.0,310.0 C391.3,314.7 384.7,327.5 383.0,335.0 C381.3,342.5 382.2,350.8 385.0,355.0 C387.8,359.2 394.8,361.2 400.0,360.0 C405.2,358.8 413.3,350.0 416.0,348.0"/>
<ellipse cx="396.500" cy="322" rx="9" ry="14" transform="rotate(25 396.5 322)"/>
<!-- back plate inner edge lower-left -->
<path style="stroke-width:1.3" d="M97.0,492.0 C95.2,500.0 87.3,522.8 86.0,540.0 C84.7,557.2 86.3,576.7 89.0,595.0 C91.7,613.3 97.2,633.0 102.0,650.0 C106.8,667.0 115.3,689.2 118.0,697.0"/>
<!-- body cylinder -->
<ellipse class="w" cx="240" cy="536" rx="85" ry="150" transform="rotate(25 240 536)"/>
<ellipse cx="258" cy="544" rx="85" ry="150" transform="rotate(25 258 544)"/>
<path class="w" style="stroke:none" d="M303,400 L177,672 L300,730 L450,450 Z"/>
<path d="M303.400,400 L420,440"/>
<path d="M177,672 L245,716"/>
<path d="M162,650 L160,690 L165,682"/>
</g>
<!-- bearing (4x coords offset 440,370) -->
<g transform="translate(440,370) scale(0.25)">
<ellipse class="w" cx="384" cy="612" rx="120" ry="206" transform="rotate(25 384 612)" style="stroke:#5a5a5a;stroke-width:2"/>
<ellipse class="w" cx="409" cy="622" rx="128" ry="220" transform="rotate(25 409 622)" style="stroke-width:1.4"/>
<path class="w" style="stroke:none" d="M502,422.600 L316,821.400 L389,865 L587,439 Z"/>
<path d="M502,422.600 L587,439"/>
<path d="M316,821.400 L389,865"/>
<ellipse cx="443" cy="631" rx="137" ry="235" transform="rotate(25 443 631)"/>
<ellipse cx="453" cy="635.700" rx="137" ry="235" transform="rotate(25 453 635.7)"/>
<ellipse cx="468" cy="642.700" rx="137" ry="235" transform="rotate(25 468 642.7)"/>
<ellipse class="w" cx="488" cy="652" rx="137" ry="235" transform="rotate(25 488 652)"/>
<ellipse cx="492" cy="654" rx="127" ry="222" transform="rotate(25 492 654)"/>
<ellipse cx="489" cy="670" rx="80" ry="115" transform="rotate(25 489 670)"/>
<path d="M432.0,612.0 C435.8,607.5 445.3,592.3 455.0,585.0 C464.7,577.7 478.3,570.8 490.0,568.0 C501.7,565.2 515.8,564.3 525.0,568.0 C534.2,571.7 541.2,578.0 545.0,590.0 C548.8,602.0 549.7,621.7 548.0,640.0 C546.3,658.3 542.2,682.5 535.0,700.0 C527.8,717.5 515.8,733.3 505.0,745.0 C494.2,756.7 481.7,764.8 470.0,770.0 C458.3,775.2 440.8,775.0 435.0,776.0"/>
<path d="M420.0,720.0 C421.7,725.0 424.2,743.0 430.0,750.0 C435.8,757.0 445.0,762.3 455.0,762.0 C465.0,761.7 484.2,750.3 490.0,748.0"/>
</g>
<!-- port block, lug, hydraulic lower fitting (8x coords offset 440,380) -->
<g transform="translate(440,380) scale(0.125)">
<!-- lower-left lug -->
<path class="w" d="M120.0,740.0 C114.7,750.0 96.0,781.7 88.0,800.0 C80.0,818.3 71.7,833.3 72.0,850.0 C72.3,866.7 80.3,885.8 90.0,900.0 C99.7,914.2 115.0,924.2 130.0,935.0 C145.0,945.8 166.3,960.8 180.0,965.0 C193.7,969.2 200.3,965.8 212.0,960.0 C223.7,954.2 238.7,945.0 250.0,930.0 C261.3,915.0 274.0,886.7 280.0,870.0 C286.0,853.3 299.3,848.3 286.0,830.0 C272.7,811.7 227.7,775.0 200.0,760.0 C172.3,745.0 133.3,743.3 120.0,740.0"/>
<path style="stroke-width:1.3" d="M162.0,822.0 C159.7,831.7 146.3,860.3 148.0,880.0 C149.7,899.7 168.0,930.0 172.0,940.0"/>
<ellipse cx="201" cy="875" rx="24" ry="37" transform="rotate(25 201 875)"/>
<ellipse cx="199" cy="875" rx="10" ry="17" transform="rotate(25 199 875)"/>
<!-- block -->
<path class="w" d="M75,660 L175,505 L245,400 L405,480 L560,632 L350,842 L310,828 L90,700 Z"/>
<path d="M400,485 L215,752" style="stroke-width:1.4"/>
<path d="M80,655 L228,724"/>
<path d="M252,420 L392,497"/>
<!-- hydraulic lower fitting -->
<path class="w" d="M545,200 L445,340 L420,380 L430,420 L470,450 L510,450 L555,410 L650,280 Z"/>
<path d="M445.0,345.0 C454.2,350.5 482.2,366.5 500.0,378.0 C517.8,389.5 543.3,408.0 552.0,414.0"/>
<ellipse cx="467" cy="424" rx="36" ry="18" transform="rotate(30 467 424)" style="fill:#666;stroke-width:0.8"/>
<path d="M550.0,215.0 C558.3,220.8 585.0,236.5 600.0,250.0 C615.0,263.5 633.3,288.3 640.0,296.0"/>
<path class="w" d="M590,120 L712,205 L682,258 L660,245 L555,170 Z"/>
<path d="M690,197 L662,246"/>
<path d="M612,135 L580,186"/>
<path d="M430,442 L402,488"/>
</g>

<path d="M541.89,526.77 L518.03,513.11 C516.09,512.00 511.22,520.50 513.16,521.61 L537.02,535.28 Z" style="fill:#7a7a7a;stroke:#222;stroke-width:0.7"/>
<path d="M517.86,513.01 Q517.51,518.45 513.33,521.71" style="stroke:#111;stroke-width:0.62"/>
<path d="M518.99,513.66 Q518.64,519.10 514.47,522.36" style="stroke:#111;stroke-width:0.62"/>
<path d="M520.13,514.31 Q519.78,519.75 515.61,523.01" style="stroke:#111;stroke-width:0.62"/>
<path d="M521.27,514.96 Q520.92,520.41 516.74,523.66" style="stroke:#111;stroke-width:0.62"/>
<path d="M522.40,515.61 Q522.05,521.06 517.88,524.31" style="stroke:#111;stroke-width:0.62"/>
<path d="M523.54,516.26 Q523.19,521.71 519.01,524.96" style="stroke:#111;stroke-width:0.62"/>
<path d="M524.67,516.91 Q524.33,522.36 520.15,525.61" style="stroke:#111;stroke-width:0.62"/>
<path d="M525.81,517.56 Q525.46,523.01 521.29,526.26" style="stroke:#111;stroke-width:0.62"/>
<path d="M526.95,518.21 Q526.60,523.66 522.42,526.92" style="stroke:#111;stroke-width:0.62"/>
<path d="M528.08,518.86 Q527.73,524.31 523.56,527.57" style="stroke:#111;stroke-width:0.62"/>
<path d="M529.22,519.51 Q528.87,524.96 524.70,528.22" style="stroke:#111;stroke-width:0.62"/>
<path d="M530.36,520.16 Q530.01,525.61 525.83,528.87" style="stroke:#111;stroke-width:0.62"/>
<path d="M531.49,520.82 Q531.14,526.26 526.97,529.52" style="stroke:#111;stroke-width:0.62"/>
<path d="M532.63,521.47 Q532.28,526.91 528.11,530.17" style="stroke:#111;stroke-width:0.62"/>
<path d="M533.76,522.12 Q533.42,527.56 529.24,530.82" style="stroke:#111;stroke-width:0.62"/>
<path d="M534.90,522.77 Q534.55,528.22 530.38,531.47" style="stroke:#111;stroke-width:0.62"/>
<path d="M536.04,523.42 Q535.69,528.87 531.51,532.12" style="stroke:#111;stroke-width:0.62"/>
<path d="M537.17,524.07 Q536.83,529.52 532.65,532.77" style="stroke:#111;stroke-width:0.62"/>
<path d="M538.31,524.72 Q537.96,530.17 533.79,533.42" style="stroke:#111;stroke-width:0.62"/>
<path d="M539.45,525.37 Q539.10,530.82 534.92,534.07" style="stroke:#111;stroke-width:0.62"/>
<path d="M540.58,526.02 Q540.23,531.47 536.06,534.72" style="stroke:#111;stroke-width:0.62"/>
<path d="M541.72,526.67 Q541.37,532.12 537.20,535.38" style="stroke:#111;stroke-width:0.62"/>
<path d="M517.31,516.37 L538.57,528.54" style="stroke:#b5b5b5;stroke-width:0.5"/>
<ellipse class="w" cx="539.46" cy="531.02" rx="5.60" ry="8.40" transform="rotate(29.8 539.46 531.02)"/>
<path class="w" style="stroke:none" d="M543.63,523.73 L550.57,527.71 L542.23,542.29 L535.28,538.31 Z"/>
<path d="M543.63,523.73 L550.57,527.71"/>
<path d="M535.28,538.31 L542.23,542.29"/>
<ellipse class="w" cx="546.40" cy="535.00" rx="5.60" ry="8.40" transform="rotate(29.8 546.40 535.00)"/>
<ellipse cx="546.83" cy="535.25" rx="4.76" ry="7.14" transform="rotate(29.8 546.83 535.25)" style="stroke-width:1.0"/>
<path d="M548.92,531.60 L549.98,534.63 L547.89,538.28 L544.75,538.89 L543.69,535.87 L545.77,532.22 Z" style="stroke-width:0.9"/>
<path d="M548.92,531.60 L546.83,535.25 L547.89,538.28" style="stroke-width:0.7"/>
<path d="M329.06,475.48 L343.40,668.40"/>
<path class="k" d="M328.50,468.00 L327.36,475.61 L330.75,475.35 Z" style="stroke-width:0.4"/>
<path d="M411.48,521.14 L381.00,668.40"/>
<path class="k" d="M413.00,513.80 L409.82,520.80 L413.14,521.49 Z" style="stroke-width:0.4"/>
<path d="M578.10,598.07 L461.20,673.70"/>
<path class="k" d="M584.40,594.00 L577.18,596.65 L579.03,599.50 Z" style="stroke-width:0.4"/>
<path d="M537.4,568.8 L422,672.2"/>
<circle class="k" cx="537.4" cy="568.8" r="0.9"/>
<circle class="w" cx="344.6" cy="681" r="12.5"/>
<circle class="w" cx="378" cy="681" r="12.5"/>
<circle class="w" cx="412.3" cy="681" r="12.5"/>
<circle class="w" cx="449.5" cy="681" r="12.5"/>
</g>
<g id="nums" font-family="Liberation Sans, sans-serif" font-size="12.2" fill="#4a4a4a" text-anchor="middle">
<text x="860.5" y="119.80000000000001">5</text>
<text x="860.5" y="149.5">4</text>
<text x="860.5" y="178.8">3</text>
<text x="860.5" y="209.0">6</text>
<text x="344.6" y="685.4">1</text>
<text x="378" y="685.4">8</text>
<text x="412.3" y="685.4">2</text>
<text x="449.5" y="685.4">7</text>
</g>
<g id="tbl">
<line x1="751.3" y1="282.4" x2="998.9" y2="282.4"/>
<line x1="751.3" y1="298.2" x2="998.9" y2="298.2"/>
<line x1="751.3" y1="328.8" x2="998.9" y2="328.8"/>
<line x1="751.3" y1="360.4" x2="998.9" y2="360.4"/>
<line x1="751.3" y1="379.4" x2="998.9" y2="379.4"/>
<line x1="751.3" y1="397.9" x2="998.9" y2="397.9"/>
<line x1="751.3" y1="417.2" x2="998.9" y2="417.2"/>
<line x1="751.3" y1="447.5" x2="998.9" y2="447.5"/>
<line x1="751.3" y1="476.5" x2="998.9" y2="476.5"/>
<line x1="751.3" y1="505.2" x2="998.9" y2="505.2"/>
<line x1="751.3" y1="282.4" x2="751.3" y2="505.2"/>
<line x1="791.9" y1="282.4" x2="791.9" y2="505.2"/>
<line x1="948.3" y1="282.4" x2="948.3" y2="505.2"/>
<line x1="998.9" y1="282.4" x2="998.9" y2="505.2"/>
<text transform="translate(771.5999999999999,295.6) scale(1.145,1)" text-anchor="middle">NR</text>
<text transform="translate(870.0999999999999,295.6) scale(1.145,1)" text-anchor="middle">PART</text>
<text transform="translate(973.5999999999999,295.6) scale(1.145,1)" text-anchor="middle">PIECE</text>
<text transform="translate(771.5999999999999,317.6) scale(1.145,1)" text-anchor="middle">1</text>
<text transform="translate(973.5999999999999,317.6) scale(1.145,1)" text-anchor="middle">1</text>
<text transform="translate(793.8,311.0) scale(1.145,1)" text-anchor="start">Clutch slave cylinder</text>
<text transform="translate(793.8,323.6) scale(1.145,1)" text-anchor="start">adapter</text>
<text transform="translate(771.5999999999999,349.0) scale(1.145,1)" text-anchor="middle">2</text>
<text transform="translate(973.5999999999999,349.0) scale(1.145,1)" text-anchor="middle">1</text>
<text transform="translate(793.8,342.5) scale(1.145,1)" text-anchor="start">Concentric slave</text>
<text transform="translate(793.8,355.2) scale(1.145,1)" text-anchor="start">cylinder</text>
<text transform="translate(771.5999999999999,373.6) scale(1.145,1)" text-anchor="middle">3</text>
<text transform="translate(973.5999999999999,373.6) scale(1.145,1)" text-anchor="middle">1</text>
<text transform="translate(793.8,373.6) scale(1.155,1)" text-anchor="start">Hydraulic line</text>
<text transform="translate(771.5999999999999,393.0) scale(1.145,1)" text-anchor="middle">4</text>
<text transform="translate(973.5999999999999,393.0) scale(1.145,1)" text-anchor="middle">1</text>
<text transform="translate(793.8,393.0) scale(1.16,1)" text-anchor="start">Tee</text>
<text transform="translate(771.5999999999999,412.4) scale(1.145,1)" text-anchor="middle">5</text>
<text transform="translate(973.5999999999999,412.4) scale(1.145,1)" text-anchor="middle">1</text>
<text transform="translate(793.8,412.4) scale(1.16,1)" text-anchor="start">Bleed screw</text>
<text transform="translate(771.5999999999999,437.0) scale(1.145,1)" text-anchor="middle">6</text>
<text transform="translate(973.5999999999999,437.0) scale(1.145,1)" text-anchor="middle">1</text>
<text transform="translate(793.8,435.3) scale(1.186,1)" text-anchor="start">Inverted flare adapter</text>
<text transform="translate(771.5999999999999,466.5) scale(1.145,1)" text-anchor="middle">7</text>
<text transform="translate(973.5999999999999,466.5) scale(1.145,1)" text-anchor="middle">3</text>
<text transform="translate(793.8,466.5) scale(1.176,1)" text-anchor="start">ISO 4762 M6 x 20</text>
<text transform="translate(771.5999999999999,494.9) scale(1.145,1)" text-anchor="middle">8</text>
<text transform="translate(973.5999999999999,494.9) scale(1.145,1)" text-anchor="middle">4</text>
<text transform="translate(793.8,494.9) scale(1.176,1)" text-anchor="start">ISO 4762 M8 x 20</text>
</g>
<g id="foot">
<rect x="12.5" y="752" width="128" height="128" fill="url(#gg)"/>
<g fill="none" stroke="#fff" stroke-width="3.6" stroke-linecap="round" stroke-linejoin="round">
<path d="M22.4,791 H38.3 L51.4,804.4 L38.3,817.7 H24 L22.4,819.3 V829.7"/>
<path d="M38.9,829.7 L58.9,809.7 L75.8,826.9 L93.2,809.7 L113.2,829.7"/>
<path d="M130.1,791 H113.9 L100.1,804.4 L125.1,829.4 H130.7"/>
</g>
<text x="20.5" y="848.4" font-family="Liberation Sans, sans-serif" font-size="12.4" fill="#c3d4bd" textLength="113.5" lengthAdjust="spacing">MOTORSPORT</text>
<g stroke="#0a0a0a" stroke-width="2" stroke-linejoin="round"><text transform="translate(176.30,827.00) scale(0.4515,0.3843)" font-family="Liberation Sans, sans-serif" font-weight="bold" font-size="100" fill="#0a0a0a">A</text>
<text transform="translate(208.16,827.00) scale(0.4730,0.3899)" font-family="Liberation Sans, sans-serif" font-weight="bold" font-size="100" fill="#0a0a0a">D</text>
<text transform="translate(240.90,827.00) scale(0.4515,0.3843)" font-family="Liberation Sans, sans-serif" font-weight="bold" font-size="100" fill="#0a0a0a">A</text>
<text transform="translate(274.04,826.62) scale(0.4259,0.3843)" font-family="Liberation Sans, sans-serif" font-weight="bold" font-size="100" fill="#0a0a0a">P</text>
<text transform="translate(300.87,827.00) scale(0.4267,0.3843)" font-family="Liberation Sans, sans-serif" font-weight="bold" font-size="100" fill="#0a0a0a">T</text>
<text transform="translate(328.95,827.00) scale(0.3421,0.3899)" font-family="Liberation Sans, sans-serif" font-weight="bold" font-size="100" fill="#0a0a0a">E</text>
<text transform="translate(352.71,827.00) scale(0.3154,0.3899)" font-family="Liberation Sans, sans-serif" font-weight="bold" font-size="100" fill="#0a0a0a">R</text>
<text transform="translate(397.06,827.00) scale(0.4175,0.3899)" font-family="Liberation Sans, sans-serif" font-weight="bold" font-size="100" fill="#0a0a0a">Z</text>
<text transform="translate(421.84,827.01) scale(0.4857,0.3901)" font-family="Liberation Sans, sans-serif" font-weight="bold" font-size="100" fill="#0a0a0a">0</text>
<text transform="translate(462.12,827.01) scale(0.4400,0.3901)" font-family="Liberation Sans, sans-serif" font-weight="bold" font-size="100" fill="#0a0a0a">3</text>
<text transform="translate(486.63,827.00) scale(0.4691,0.3899)" font-family="Liberation Sans, sans-serif" font-weight="bold" font-size="100" fill="#0a0a0a">4</text>
<text transform="translate(523.32,827.01) scale(0.4918,0.3901)" font-family="Liberation Sans, sans-serif" font-weight="bold" font-size="100" fill="#0a0a0a">0</text>
<text transform="translate(549.32,827.01) scale(0.4918,0.3901)" font-family="Liberation Sans, sans-serif" font-weight="bold" font-size="100" fill="#0a0a0a">0</text>
<text transform="translate(585.14,827.01) scale(0.4857,0.3901)" font-family="Liberation Sans, sans-serif" font-weight="bold" font-size="100" fill="#0a0a0a">0</text>
<text transform="translate(444.80,827.00) scale(0.3800,0.3757)" font-family="Liberation Sans, sans-serif" font-weight="bold" font-size="100" fill="#0a0a0a" stroke="none">1</text>
<text transform="translate(608.70,827.00) scale(0.3800,0.3757)" font-family="Liberation Sans, sans-serif" font-weight="bold" font-size="100" fill="#0a0a0a" stroke="none">1</text>
<text transform="translate(511.70,827.00) scale(0.5200,0.4800)" font-family="Liberation Sans, sans-serif" font-weight="bold" font-size="100" fill="#0a0a0a" stroke="none">.</text>
<text transform="translate(573.60,827.00) scale(0.5200,0.4800)" font-family="Liberation Sans, sans-serif" font-weight="bold" font-size="100" fill="#0a0a0a" stroke="none">.</text></g>
<g stroke="#d2d2d2" stroke-width="2.2"><text transform="translate(766.09,796.70) scale(0.5882,0.5304)" font-family="Liberation Sans, sans-serif" font-weight="normal" font-size="100" fill="#d2d2d2">M</text>
<text transform="translate(812.80,796.70) scale(0.6164,0.5304)" font-family="Liberation Sans, sans-serif" font-weight="normal" font-size="100" fill="#d2d2d2">A</text>
<text transform="translate(855.97,796.70) scale(0.5667,0.5304)" font-family="Liberation Sans, sans-serif" font-weight="normal" font-size="100" fill="#d2d2d2">N</text>
<text transform="translate(897.76,796.67) scale(0.5776,0.5300)" font-family="Liberation Sans, sans-serif" font-weight="normal" font-size="100" fill="#d2d2d2">U</text>
<text transform="translate(937.90,796.70) scale(0.5955,0.5304)" font-family="Liberation Sans, sans-serif" font-weight="normal" font-size="100" fill="#d2d2d2">A</text>
<text transform="translate(980.05,796.70) scale(0.4689,0.5304)" font-family="Liberation Sans, sans-serif" font-weight="normal" font-size="100" fill="#d2d2d2">L</text></g>
</g>
</svg>
</body></html>
